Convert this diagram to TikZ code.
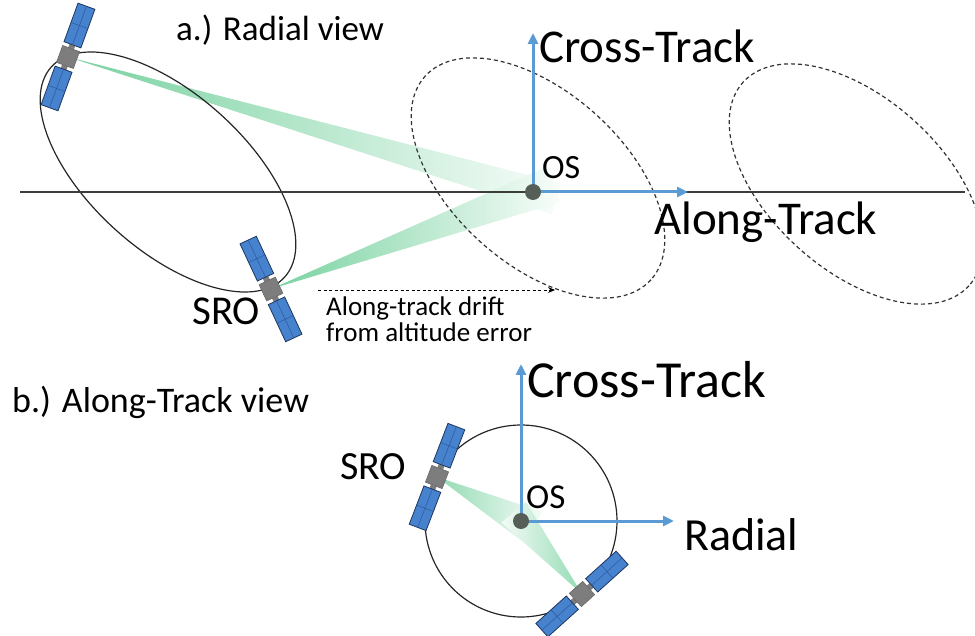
\documentclass[tikz,border=0pt]{standalone}
\usepackage{fontspec}
\setmainfont{Carlito}
\usetikzlibrary{arrows.meta,calc}

\definecolor{axisblue}{RGB}{91,155,213}
\definecolor{panelblue}{RGB}{70,130,205}
\definecolor{paneledge}{RGB}{30,55,95}
\definecolor{panelgrid}{RGB}{45,90,155}
\definecolor{busgray}{RGB}{125,125,125}
\definecolor{beamgreen}{RGB}{120,210,160}
\definecolor{osdot}{RGB}{85,95,88}
\definecolor{trackgray}{RGB}{60,60,60}

\newcommand{\fs}[1]{\fontsize{#1}{#1}\selectfont}

\tikzset{
  axisarrow/.style={draw=axisblue, line width=3pt, -{Triangle[length=11pt,width=10pt]}},
  orbit/.style={draw=black!85, line width=1.2pt},
  driftorbit/.style={draw=black!80, line width=1.2pt, dash pattern=on 4pt off 3pt},
  driftarrow/.style={draw=black, line width=0.9pt, dash pattern=on 3pt off 2.5pt,
                     -{Stealth[length=7pt,width=6pt]}},
  osmark/.style={circle, fill=osdot, minimum size=16pt, inner sep=0pt},
  lbl/.style={anchor=base west, inner sep=0pt, text=black},
  pics/satellite/.style={code={
    % two solar panels on short booms either side of the bus
    \foreach \s in {-1,1}{
      \fill[busgray] (-3,9*\s) rectangle (3,13*\s);
      \filldraw[fill=panelblue, draw=paneledge, line width=0.8pt]
        (-9,13*\s) rectangle (9,54*\s);
      \draw[panelgrid, line width=0.5pt]
        (0,13*\s) -- (0,54*\s) (-9,33.5*\s) -- (9,33.5*\s);
    }
    % bus
    \filldraw[fill=busgray, draw=busgray!80!black, line width=0.5pt]
      (-9,-9) rectangle (9,9);
  }},
}

\begin{document}
\begin{tikzpicture}[x=1pt, y=-1pt]
\useasboundingbox (0,0) rectangle (975,636);

% ---------- key points ----------
\coordinate (osA) at (533,192);
\coordinate (osB) at (521,521);
\coordinate (s1) at (68,57);
\coordinate (s2) at (271,289);
\coordinate (s3) at (437,477);
\coordinate (s4) at (582,594);

% ---------- sensor beams ----------
\coordinate (endA) at ($(s1)!1.05!(osA)$);
\coordinate (endB) at ($(s2)!1.08!(osA)$);
\shade[left color=beamgreen, right color=beamgreen!5]
  (s1) -- ($(endA)!16pt!90:(s1)$) -- ($(endA)!16pt!-90:(s1)$) -- cycle;
\shade[left color=beamgreen, right color=beamgreen!5]
  (s2) -- ($(endB)!19pt!90:(s2)$) -- ($(endB)!19pt!-90:(s2)$) -- cycle;

\coordinate (endC) at ($(s3)!1.15!(osB)$);
\coordinate (endD) at ($(s4)!1.12!(osB)$);
\shade[left color=beamgreen!80, right color=beamgreen!8]
  (s3) -- ($(endC)!18pt!90:(s3)$) -- ($(endC)!18pt!-90:(s3)$) -- cycle;
\shade[left color=beamgreen!8, right color=beamgreen!80]
  (s4) -- ($(endD)!16pt!90:(s4)$) -- ($(endD)!16pt!-90:(s4)$) -- cycle;

% ---------- radial view ----------
\draw[orbit, shift={(168,172)}, rotate=-42] (0,0) ellipse[x radius=157, y radius=78];
\draw[driftorbit, shift={(538,178)}, rotate=-42] (0,0) ellipse[x radius=152, y radius=86];
\draw[driftorbit, shift={(856,184)}, rotate=-42] (0,0) ellipse[x radius=152, y radius=86];

\coordinate (trackL) at (20,192);
\coordinate (trackR) at (965,192);
\draw[trackgray, line width=1.5pt] (trackL) -- (trackR);

\coordinate (ctA) at (533,33);
\coordinate (atA) at (688,192);
\draw[axisarrow] (osA) -- (ctA);
\draw[axisarrow] (osA) -- (atA);
\node[osmark] (osAdot) at (osA) {};

\coordinate (drift0) at (318,290);
\coordinate (drift1) at (555,290);
\draw[driftarrow] (drift0) -- (drift1);

\pic[rotate=-20] at (s1) {satellite};
\pic[rotate=25] at (s2) {satellite};

\node[lbl, font=\fs{35}] (titleA) at (176,41) {a.) Radial view};
\node[lbl, font=\fs{47}] (ctAlbl) at (539,63) {Cross-Track};
\node[lbl, font=\fs{34}] (osAlbl) at (542,179) {OS};
\node[lbl, font=\fs{47}] (atAlbl) at (654,235) {Along-Track};
\node[lbl, font=\fs{41}] (sroA) at (192,325) {SRO};
\node[lbl, font=\fs{27}] (driftA) at (326,316) {Along-track drift};
\node[lbl, font=\fs{27}] (driftB) at (326,342) {from altitude error};

% ---------- along-track view ----------
\draw[orbit] (osB) circle[radius=96];

\coordinate (ctB) at (521,364);
\coordinate (rdB) at (674,521);
\draw[axisarrow] (osB) -- (ctB);
\draw[axisarrow] (osB) -- (rdB);
\node[osmark] (osBdot) at (osB) {};

\pic[rotate=-21] at (s3) {satellite};
\pic[rotate=-48] at (s4) {satellite};

\node[lbl, font=\fs{36}] (titleB) at (12,413) {b.) Along-Track view};
\node[lbl, font=\fs{52}] (ctBlbl) at (527,397) {Cross-Track};
\node[lbl, font=\fs{40}] (sroB) at (340,479) {SRO};
\node[lbl, font=\fs{35}] (osBlbl) at (526,508) {OS};
\node[lbl, font=\fs{46}] (rdBlbl) at (684,550) {Radial};
\end{tikzpicture}
\end{document}
